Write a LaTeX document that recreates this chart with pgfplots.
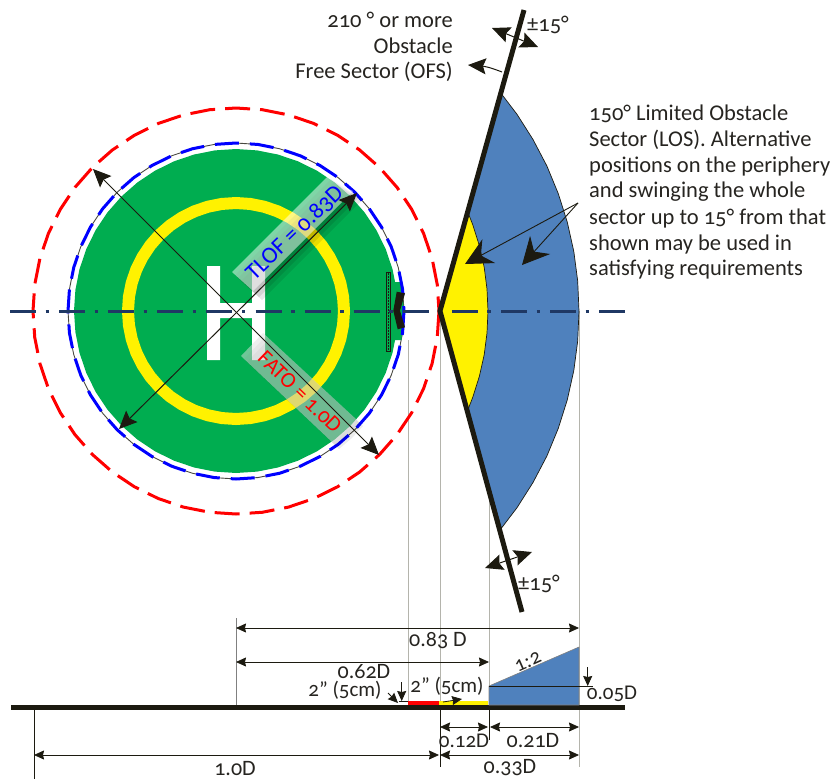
\documentclass[border=0pt]{standalone}
\usepackage{fontspec}
\setmainfont[Numbers=OldStyle]{Carlito}
\usepackage{pgfplots}
\usepackage{pgfplotstable}
\pgfplotsset{compat=1.18}
\usetikzlibrary{arrows.meta}
\definecolor{hgreen}{HTML}{00AD50}
\definecolor{hblue}{HTML}{4F81BD}
\definecolor{hdark}{HTML}{1C1A10}
\definecolor{hline}{HTML}{1F3864}
\definecolor{hgray}{HTML}{B4B4AC}
\definecolor{htext}{HTML}{262420}
\pgfplotstableread{
c s
1.0000 0.0000
0.9914 0.1305
0.9659 0.2588
0.9239 0.3827
0.8660 0.5000
0.7934 0.6088
0.7071 0.7071
0.6088 0.7934
0.5000 0.8660
0.3827 0.9239
0.2588 0.9659
0.1305 0.9914
0.0000 1.0000
-0.1305 0.9914
-0.2588 0.9659
-0.3827 0.9239
-0.5000 0.8660
-0.6088 0.7934
-0.7071 0.7071
-0.7934 0.6088
-0.8660 0.5000
-0.9239 0.3827
-0.9659 0.2588
-0.9914 0.1305
-1.0000 0.0000
-0.9914 -0.1305
-0.9659 -0.2588
-0.9239 -0.3827
-0.8660 -0.5000
-0.7934 -0.6088
-0.7071 -0.7071
-0.6088 -0.7934
-0.5000 -0.8660
-0.3827 -0.9239
-0.2588 -0.9659
-0.1305 -0.9914
0.0000 -1.0000
0.1305 -0.9914
0.2588 -0.9659
0.3827 -0.9239
0.5000 -0.8660
0.6088 -0.7934
0.7071 -0.7071
0.7934 -0.6088
0.8660 -0.5000
0.9239 -0.3827
0.9659 -0.2588
0.9914 -0.1305
}\unitcircle
\newcommand\circleplot[2]{\addplot[#1] table[x expr=236+#2*\thisrow{c},y expr=311+#2*\thisrow{s}]{\unitcircle} -- cycle;}
\newcommand\fs{\fontsize{22.5}{26}\selectfont\color{htext}}
\newcommand\fd{\fontsize{22}{26}\selectfont\color{htext}}
\newcommand\fq{\fontsize{21}{25}\selectfont\color{htext}}
\tikzset{
  dimar/.style={line width=0.8pt,draw=hdark,{Stealth[length=10pt,width=9pt,inset=1pt]}-{Stealth[length=10pt,width=9pt,inset=1pt]}},
  bigar/.style={line width=1pt,draw=hdark,{Stealth[length=18pt,width=16pt,inset=3pt]}-{Stealth[length=18pt,width=16pt,inset=3pt]}},
  onebig/.style={line width=0.9pt,draw=hdark,-{Stealth[length=27pt,width=27pt,inset=9pt]}},
  tinyar/.style={line width=0.8pt,draw=hdark,-{Stealth[length=10pt,width=9pt,inset=1pt]}},
}
\begin{document}
\begin{tikzpicture}
\useasboundingbox (0,0) rectangle (835pt,780pt);
\begin{axis}[at={(0,0)},anchor=south west,scale only axis,width=835pt,height=780pt,
  xmin=0,xmax=835,ymin=0,ymax=780,y dir=reverse,hide axis,clip=false]
% thin construction lines
\addplot[hgray,line width=1pt] coordinates {(408,340) (408,705)};
\addplot[hgray,line width=1pt] coordinates {(440,311) (440,705)};
\addplot[hgray,line width=1pt] coordinates {(489,311) (489,705)};
\addplot[hgray,line width=1pt] coordinates {(579,311) (579,767)};
\addplot[gray,line width=1pt] coordinates {(236,618) (236,705)};
\addplot[hdark,line width=0.8pt] coordinates {(440,708) (440,767)};
\addplot[hdark,line width=0.8pt] coordinates {(489,708) (489,740)};
\addplot[hdark,line width=0.8pt] coordinates {(34,708) (34,779)};
% outer circles
\circleplot{draw=red,line width=3pt,dash pattern=on 25pt off 10pt}{203}
\circleplot{draw=hdark!80,line width=0.9pt}{168}
\circleplot{fill=hgreen,draw=none}{162}
\addplot[fill=hgreen,draw=none] coordinates {(395,282) (401.5,282) (404,311) (401.5,340) (395,340)} -- cycle;
\circleplot{draw=blue,line width=3pt,dash pattern=on 24pt off 11pt}{168}
\circleplot{draw=yellow,line width=12pt}{108}
% H
\addplot[fill=white,draw=none] coordinates {(207,266) (220,266) (220,303) (252,303) (252,266) (265,266) (265,360) (252,360) (252,318) (220,318) (220,360) (207,360)} -- cycle;
% shadows
\addplot[fill=black,fill opacity=.09,draw=none] coordinates {(235,275) (256,294) (356,194) (348,190) (331,179)} -- cycle;
\addplot[fill=black,fill opacity=.09,draw=none] coordinates {(238,278) (259,297) (359,197) (351,193) (334,182)} -- cycle;
\addplot[fill=black,fill opacity=.09,draw=none] coordinates {(241,281) (262,300) (362,200) (354,196) (337,185)} -- cycle;
\addplot[fill=black,fill opacity=.07,draw=none] coordinates {(244,359) (266,336) (360,423) (349,435) (336,446)} -- cycle;
\addplot[fill=black,fill opacity=.07,draw=none] coordinates {(247,362) (269,339) (363,426) (352,438) (339,449)} -- cycle;
% translucent bands
\addplot[fill=white,fill opacity=.5,draw=none] coordinates {(232,272) (253,291) (353,191) (345,187) (328,176)} -- cycle;
\addplot[fill=white!88!black,fill opacity=.5,draw=none] coordinates {(241,356) (263,333) (357,420) (346,432) (333,443)} -- cycle;
% marking at the edge
\addplot[fill=hgreen,draw=hdark,line width=0.8pt] coordinates {(386.2,272) (390.4,272) (390.4,351) (386.2,351)} -- cycle;
\addplot[hdark,line width=1pt,dash pattern=on 1.5pt off 1.5pt] coordinates {(388.3,273) (388.3,350)};
\addplot[fill=hdark,draw=none] coordinates {(396.7,291.7) (405,293.3) (400,310.7) (405,327.3) (397.7,329.3) (393.3,310.7)} -- cycle;
% sectors
\addplot[fill=hblue,draw=hdark,line width=0.7pt] coordinates {(440,311) (501.3,93.7) (517,114.3) (533,139.5) (546.9,166) (558.3,193.7) (567.3,222.2) (573.8,251.4) (577.7,281.1) (579,311) (577.7,340.9) (573.8,370.6) (567.3,399.8) (558.3,428.3) (546.9,456) (533,482.5) (517,507.7) (501.3,528.3)} -- cycle;
\addplot[fill=yellow,draw=hdark,line width=0.7pt] coordinates {(440,311) (468,212.5) (472.8,224.8) (479.4,245.8) (484.2,267.2) (487,289) (488,311) (487,333) (484.2,354.8) (479.4,376.2) (472.8,397.2) (468,409.5)} -- cycle;
% centre line
\addplot[hline,line width=3pt,dash pattern=on 26pt off 9.5pt on 3.5pt off 10.1pt] coordinates {(10,311) (625,311)};
% diameters
\addplot[bigar] coordinates {(93,169) (379,455)};
\addplot[bigar] coordinates {(357,193) (119,429)};
\node[rotate=44] at (axis cs:295,233) {\fontsize{23.5}{26}\selectfont\color{blue}TLOF = 0.83D};
\node[rotate=-44] at (axis cs:300,392) {\fontsize{22}{26}\selectfont\color{red}FATO = 1.0D};
\addplot[hdark,line width=5pt,line join=miter] coordinates {(524,10) (440,311) (522,612)};
% sector arrows
\addplot[onebig] coordinates {(578,203) (465,264)};
\addplot[onebig] coordinates {(578,203) (522,265)};
\addplot[bigar,smooth] coordinates {(492,28) (514,37) (538,47)};
\addplot[line width=1pt,draw=hdark,smooth,{Stealth[length=18pt,width=16pt,inset=3pt]}-] coordinates {(468,65) (487,67) (502,72)};
\addplot[bigar] coordinates {(485,568) (532,552)};
% side view
\addplot[hdark,line width=5.5pt] coordinates {(11,707.7) (625,707.7)};
\addplot[fill=red,draw=none] coordinates {(408,701) (439,701) (439,705) (408,705)} -- cycle;
\addplot[fill=yellow,draw=none] coordinates {(439,701) (488,701) (488,705) (439,705)} -- cycle;
\addplot[fill=hblue,draw=gray,line width=0.6pt] coordinates {(489,705) (489,686) (579,647) (579,705)} -- cycle;
\addplot[hdark,line width=1pt] coordinates {(489,686) (593,686)};
\addplot[hdark,line width=0.8pt] coordinates {(399,701) (408,701)};
\addplot[tinyar] coordinates {(587.7,667) (587.7,686)};
\addplot[tinyar] coordinates {(401.7,682) (401.7,701)};
\addplot[tinyar] coordinates {(388,693) (398,703)};
\addplot[tinyar] coordinates {(443,702) (462,699)};
\addplot[dimar] coordinates {(236,628) (579,628)};
\addplot[dimar] coordinates {(236,662) (489,662)};
\addplot[dimar] coordinates {(440,727) (488,727)};
\addplot[dimar] coordinates {(490,727) (579,727)};
\addplot[dimar] coordinates {(440,755) (579,755)};
\addplot[dimar] coordinates {(34,755) (439,755)};
% texts
\node[anchor=east,inner sep=0] at (axis cs:453,20) {\fs 210 ° or more};
\node[anchor=east,inner sep=0] at (axis cs:453,46) {\fs Obstacle};
\node[anchor=east,inner sep=0] at (axis cs:453,72) {\fs Free Sector (OFS)};
\node[anchor=west,inner sep=0] at (axis cs:527,25) {\fs ±15°};
\node[anchor=west,inner sep=0] at (axis cs:518,584) {\fs ±15°};
\node[anchor=west,inner sep=0] at (axis cs:589,114) {\fs 150° Limited Obstacle};
\node[anchor=west,inner sep=0] at (axis cs:589,140) {\fs Sector (LOS). Alternative};
\node[anchor=west,inner sep=0] at (axis cs:589,166) {\fs positions on the periphery};
\node[anchor=west,inner sep=0] at (axis cs:589,192) {\fs and swinging the whole};
\node[anchor=west,inner sep=0] at (axis cs:589,218) {\fs sector up to 15° from that};
\node[anchor=west,inner sep=0] at (axis cs:589,244) {\fs shown may be used in};
\node[anchor=west,inner sep=0] at (axis cs:589,270) {\fs satisfying requirements};
\node[inner sep=0] at (axis cs:438,641) {\fd 0.83 D};
\node[inner sep=0] at (axis cs:364,672) {\fd 0.62D};
\node[inner sep=0] at (axis cs:345,690) {\fq 2” (5cm)};
\node[inner sep=0] at (axis cs:447,686) {\fq 2” (5cm)};
\node[inner sep=0,rotate=24] at (axis cs:528,662) {\fq 1:2};
\node[inner sep=0] at (axis cs:612,694) {\fq 0.05D};
\node[inner sep=0] at (axis cs:464,741) {\fq 0.12D};
\node[inner sep=0] at (axis cs:533,741) {\fd 0.21D};
\node[inner sep=0] at (axis cs:510,768) {\fd 0.33D};
\node[inner sep=0] at (axis cs:235,769) {\fd 1.0D};
\end{axis}
\end{tikzpicture}
\end{document}
